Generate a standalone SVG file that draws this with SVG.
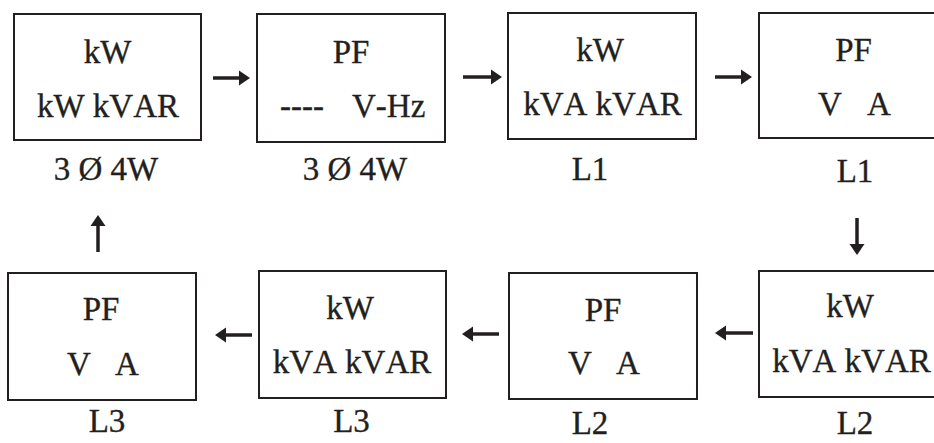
<svg xmlns="http://www.w3.org/2000/svg" width="934" height="443" viewBox="0 0 934 443">
<style>
.box{fill:#fff;stroke:#231f20;stroke-width:2}
.t{font-family:"Liberation Serif","Times New Roman",serif;font-size:33px;fill:#231f20;stroke:#231f20;stroke-width:0.35;text-anchor:middle;font-kerning:none}
.s{text-anchor:start}
.arr{stroke:#231f20;stroke-width:3.5;fill:none;marker-end:url(#ah)}
</style>
<defs>
<marker id="ah" markerUnits="userSpaceOnUse" markerWidth="11" markerHeight="16" refX="4" refY="8" orient="auto">
<path d="M0,0.5 L11,8 L0,15.5 z" fill="#231f20"/>
</marker>
</defs>
<rect width="934" height="443" fill="#fff"/>
<g id="n1">
<rect class="box" x="14" y="14" width="187" height="126"/>
<text class="t" x="107.5" y="63">kW</text>
<text class="t" x="108" y="117">kW kVAR</text>
<text class="t" x="106" y="180">3 Ø 4W</text>
</g>
<g id="n2">
<rect class="box" x="257" y="14" width="188" height="128"/>
<text class="t" x="351" y="63">PF</text>
<text class="t s" y="117"><tspan x="280">----</tspan><tspan x="352">V-Hz</tspan></text>
<text class="t" x="355" y="180">3 Ø 4W</text>
</g>
<g id="n3">
<rect class="box" x="508" y="13" width="188" height="126"/>
<text class="t" x="600" y="61">kW</text>
<text class="t" x="602.5" y="115">kVA kVAR</text>
<text class="t" x="590" y="180">L1</text>
</g>
<g id="n4">
<rect class="box" x="759" y="13" width="190" height="125"/>
<text class="t" x="853.5" y="61">PF</text>
<text class="t s" y="115"><tspan x="818">V</tspan><tspan x="867">A</tspan></text>
<text class="t" x="855" y="182">L1</text>
</g>
<g id="n8">
<rect class="box" x="759" y="271" width="190" height="126"/>
<text class="t" x="850" y="317">kW</text>
<text class="t" x="851.5" y="372">kVA kVAR</text>
<text class="t" x="855" y="434">L2</text>
</g>
<g id="n7">
<rect class="box" x="509" y="273" width="188" height="126"/>
<text class="t" x="603" y="321">PF</text>
<text class="t s" y="374"><tspan x="568">V</tspan><tspan x="616">A</tspan></text>
<text class="t" x="590" y="434">L2</text>
</g>
<g id="n6">
<rect class="box" x="259" y="271" width="187" height="127"/>
<text class="t" x="350" y="319">kW</text>
<text class="t" x="352" y="373">kVA kVAR</text>
<text class="t" x="351.5" y="432">L3</text>
</g>
<g id="n5">
<rect class="box" x="8" y="273" width="188" height="127"/>
<text class="t" x="101" y="320">PF</text>
<text class="t s" y="375"><tspan x="67">V</tspan><tspan x="115">A</tspan></text>
<text class="t" x="107" y="432">L3</text>
</g>
<g id="connectors">
<line class="arr" x1="213" y1="78" x2="243" y2="78"/>
<line class="arr" x1="463" y1="77" x2="495" y2="77"/>
<line class="arr" x1="715" y1="77" x2="745" y2="77"/>
<line class="arr" x1="857" y1="218" x2="857" y2="248"/>
<line class="arr" x1="753" y1="333" x2="722" y2="333"/>
<line class="arr" x1="499" y1="334" x2="469" y2="334"/>
<line class="arr" x1="252" y1="335" x2="222" y2="335"/>
<line class="arr" x1="98" y1="252" x2="98" y2="222"/>
</g>
</svg>
